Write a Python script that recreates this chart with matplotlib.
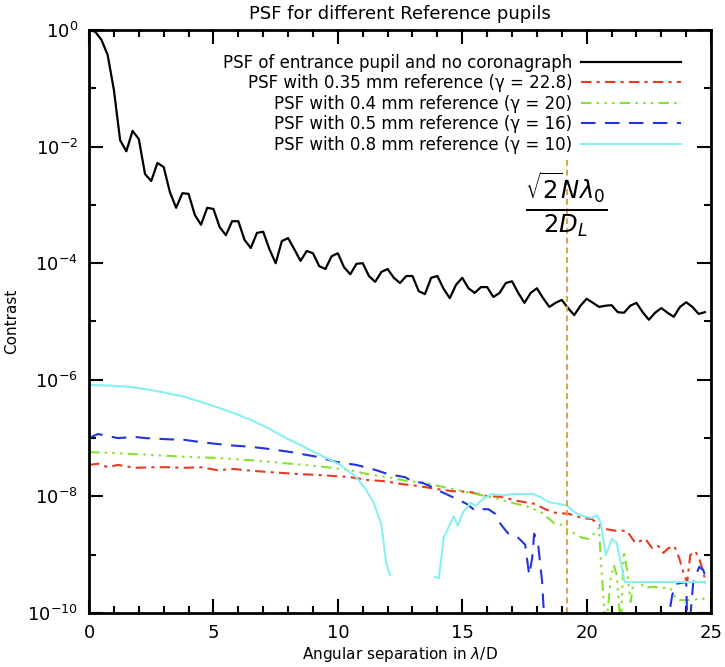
import numpy as np
import matplotlib
matplotlib.use('Agg')
import matplotlib.pyplot as plt
from matplotlib.ticker import FixedLocator, NullFormatter, LogFormatterSciNotation

# black curve: entrance pupil PSF, sampled every 0.25 lambda/D (log10 contrast)
psf_step = 0.25
psf_log = [0.0, -0.03, -0.17, -0.43, -1.03, -1.89, -2.08, -1.73, -1.87, -2.47,
           -2.59, -2.28, -2.35, -2.78, -3.05, -2.80, -2.81, -3.17, -3.34, -3.05,
           -3.07, -3.38, -3.52, -3.28, -3.28, -3.60, -3.74, -3.48, -3.46, -3.76,
           -4.00, -3.62, -3.57, -3.76, -3.96, -3.79, -3.83, -4.05, -4.10, -3.88,
           -3.83, -4.07, -4.19, -4.01, -4.00, -4.22, -4.32, -4.15, -4.10, -4.25,
           -4.34, -4.22, -4.22, -4.48, -4.53, -4.25, -4.22, -4.44, -4.60, -4.37,
           -4.25, -4.43, -4.51, -4.41, -4.41, -4.58, -4.51, -4.34, -4.31, -4.51,
           -4.68, -4.51, -4.43, -4.60, -4.75, -4.68, -4.63, -4.77, -4.89, -4.73,
           -4.61, -4.68, -4.75, -4.73, -4.72, -4.84, -4.85, -4.73, -4.68, -4.84,
           -4.97, -4.85, -4.77, -4.85, -4.92, -4.75, -4.67, -4.75, -4.87, -4.84]

# 0.35 mm reference (gamma = 22.8)
red_x = [0, 0.36, 0.76, 1.16, 1.84, 2.52, 3.15, 3.83, 4.51, 5.15, 5.83, 6.51, 7.15,
         7.83, 8.51, 9.15, 9.82, 10.5, 11.22, 11.9, 12.58, 13.22, 13.9, 14.58, 15.26,
         15.93, 16.57, 17.25, 17.93, 18.33, 18.73, 19.29, 19.81, 20.21, 20.49, 20.77,
         21.17, 21.61, 21.96, 22.36, 22.64, 22.88, 23.08, 23.28, 23.52, 23.72, 23.92,
         24.04, 24.16, 24.36, 24.52, 24.72, 24.76]
red_log = [-7.46, -7.44, -7.50, -7.46, -7.51, -7.50, -7.50, -7.51, -7.50, -7.55, -7.53,
           -7.56, -7.58, -7.60, -7.62, -7.63, -7.65, -7.67, -7.72, -7.74, -7.79, -7.82,
           -7.87, -7.91, -7.92, -7.99, -8.01, -8.08, -8.13, -8.22, -8.28, -8.30, -8.37,
           -8.39, -8.49, -8.56, -8.59, -8.59, -8.80, -8.73, -8.89, -8.85, -8.97, -8.89,
           -8.85, -9.06, -9.35, -9.47, -9.01, -8.94, -9.06, -9.35, -9.49]

# 0.4 mm reference (gamma = 20)
green_x = [0, 1.16, 2.52, 3.83, 5.15, 6.51, 7.83, 9.15, 10.5, 11.22, 12.02, 12.82, 13.5,
           14.58, 15.54, 16.33, 17.01, 17.65, 18.21, 18.69, 19.01, 19.29, 19.53, 19.81,
           20.09, 20.37, 20.49, 20.61, 20.77, 20.97, 21.09, 21.21, 21.37, 21.49, 21.61,
           21.77, 21.88, 22.08, 22.36, 22.68, 23.04, 23.36, 23.56, 23.76, 24.24, 24.64, 24.76]
green_log = [-7.24, -7.26, -7.29, -7.32, -7.34, -7.38, -7.43, -7.48, -7.55, -7.62, -7.67,
             -7.74, -7.77, -7.87, -7.96, -8.03, -8.11, -8.18, -8.28, -8.46, -8.49, -8.59,
             -8.64, -8.71, -8.73, -8.61, -8.54, -9.35, -10.3, -9.40, -9.18, -9.35, -10.3,
             -8.94, -9.23, -9.81, -9.47, -9.47, -9.57, -9.55, -9.57, -9.57, -9.74, -9.78,
             -9.78, -9.74, -9.78]

# 0.5 mm reference (gamma = 16), NaN = gap below the axis
blue_x = [0, 0.36, 1.16, 1.84, 2.24, 3.15, 3.83, 4.51, 5.55, 6.51, 7.31, 8.11, 9.15, 9.94,
          10.74, 11.54, 12.02, 12.7, 12.98, 13.42, 13.78, 14.1, 14.5, 14.86, 15.18, 15.54,
          15.77, 16.05, 16.33, 16.53, 16.85, 17.25, 17.53, 17.69, 17.81, 17.89, 18.05,
          18.21, 18.32, 20.0, 23.2, 23.44, 23.6, 24.0, 24.05, 24.12, 24.28, 24.52, 24.68, 24.76]
blue_log = [-7.00, -6.93, -7.00, -6.98, -7.00, -7.02, -7.03, -7.07, -7.12, -7.15, -7.19,
            -7.24, -7.32, -7.41, -7.46, -7.55, -7.62, -7.67, -7.74, -7.77, -7.84, -7.91,
            -7.99, -8.06, -8.13, -8.25, -8.22, -8.22, -8.30, -8.47, -8.64, -8.71, -8.83,
            -9.35, -9.06, -8.64, -8.83, -9.47, -10.3, np.nan, -10.3, -9.69, -9.50, -9.47,
            -10.3, -10.3, -9.49, -9.21, -9.26, -9.35]

# 0.8 mm reference (gamma = 10), NaN = gap below the axis
cyan_x = [0, 0.9, 1.84, 2.8, 3.83, 4.5, 5.15, 5.8, 6.51, 7.2, 7.83, 8.5, 9.15, 10.1,
          10.74, 11.14, 11.45, 11.74, 11.94, 12.1,
          13.0, 13.9, 14.06, 14.26, 14.66, 14.82, 15.02, 15.34, 15.54, 15.85, 16.17, 16.57,
          17.13, 17.53, 17.85, 18.13, 18.49, 18.89, 19.21, 19.53, 19.93, 20.21, 20.41,
          20.57, 20.77, 21.01, 21.21, 21.53, 24.76]
cyan_log = [-6.09, -6.10, -6.13, -6.20, -6.29, -6.38, -6.47, -6.57, -6.69, -6.83, -6.98,
            -7.12, -7.26, -7.46, -7.67, -7.89, -8.12, -8.46, -9.14, -9.35,
            np.nan, -9.38, -9.40, -8.70, -8.34, -8.51, -8.28, -8.11, -8.16,
            -8.04, -7.96, -7.98, -7.96, -7.96, -7.96, -8.01, -8.10, -8.13, -8.16, -8.28,
            -8.35, -8.37, -8.32, -8.46, -9.01, -8.73, -8.80, -9.47, -9.47]

labels = ['PSF of entrance pupil and no coronagraph',
          'PSF with 0.35 mm reference (γ = 22.8)',
          'PSF with 0.4 mm reference (γ = 20)',
          'PSF with 0.5 mm reference (γ = 16)',
          'PSF with 0.8 mm reference (γ = 10)']
limit_x = 19.2

fig = plt.figure(figsize=(7.25, 6.67), dpi=100)
ax = fig.add_axes([0.1228, 0.081, 0.858, 0.874])

psf_x = np.arange(len(psf_log)) * psf_step
ax.plot(psf_x, 10.0 ** np.array(psf_log), color='black', lw=1.6, label=labels[0])
ax.plot(red_x, 10.0 ** np.array(red_log), color='#e83a22', lw=1.5,
        ls=(0, (5, 2.5, 1.5, 2.5)), label=labels[1])
ax.plot(green_x, 10.0 ** np.array(green_log), color='#88e030', lw=1.5,
        ls=(0, (5, 2.5, 1.2, 2.5, 1.2, 2.5, 1.2, 2.5)), label=labels[2])
ax.plot(blue_x, 10.0 ** np.array(blue_log), color='#2233e0', lw=1.5,
        ls=(0, (7, 4.5)), label=labels[3])
ax.plot(cyan_x, 10.0 ** np.array(cyan_log), color='#88f0f0', lw=1.5, label=labels[4])

ax.plot([limit_x, limit_x], [1e-10, 10 ** -2.2], color='#e0a040', lw=1.4,
        ls=(0, (3, 2)))
ax.text(limit_x - 0.05, 10 ** -3.0, r'$\frac{\sqrt{2}N\lambda_0}{2D_L}$',
        fontsize=25, ha='center', va='center')

ax.set_yscale('log')
ax.set_xlim(0, 25)
ax.set_ylim(1e-10, 1)
ax.xaxis.set_major_locator(FixedLocator([0, 5, 10, 15, 20, 25]))
ax.xaxis.set_minor_locator(FixedLocator(np.arange(0, 26, 1)))
ax.yaxis.set_major_locator(FixedLocator([10.0 ** e for e in range(-10, 1, 2)]))
ax.yaxis.set_minor_locator(FixedLocator([10.0 ** e for e in range(-9, 0, 2)]))
ax.yaxis.set_major_formatter(LogFormatterSciNotation())
ax.yaxis.set_minor_formatter(NullFormatter())
ax.tick_params(which='both', direction='in', top=True, right=True, width=1.5,
               labelsize=13)
ax.tick_params(which='major', length=10, pad=8)
ax.tick_params(which='minor', length=5)
for s in ax.spines.values():
    s.set_linewidth(2)

ax.set_title('PSF for different Reference pupils', fontsize=13, pad=8)
ax.set_xlabel(r'Angular separation in $\lambda$/D', fontsize=11, labelpad=2)
ax.set_ylabel('Contrast', fontsize=11, labelpad=6)

ax.legend(loc='upper right', bbox_to_anchor=(0.975, 0.985), frameon=False,
          markerfirst=False, fontsize=12, handlelength=6, labelspacing=0.15,
          handletextpad=0.5)

fig.savefig('out.png', dpi=100)
